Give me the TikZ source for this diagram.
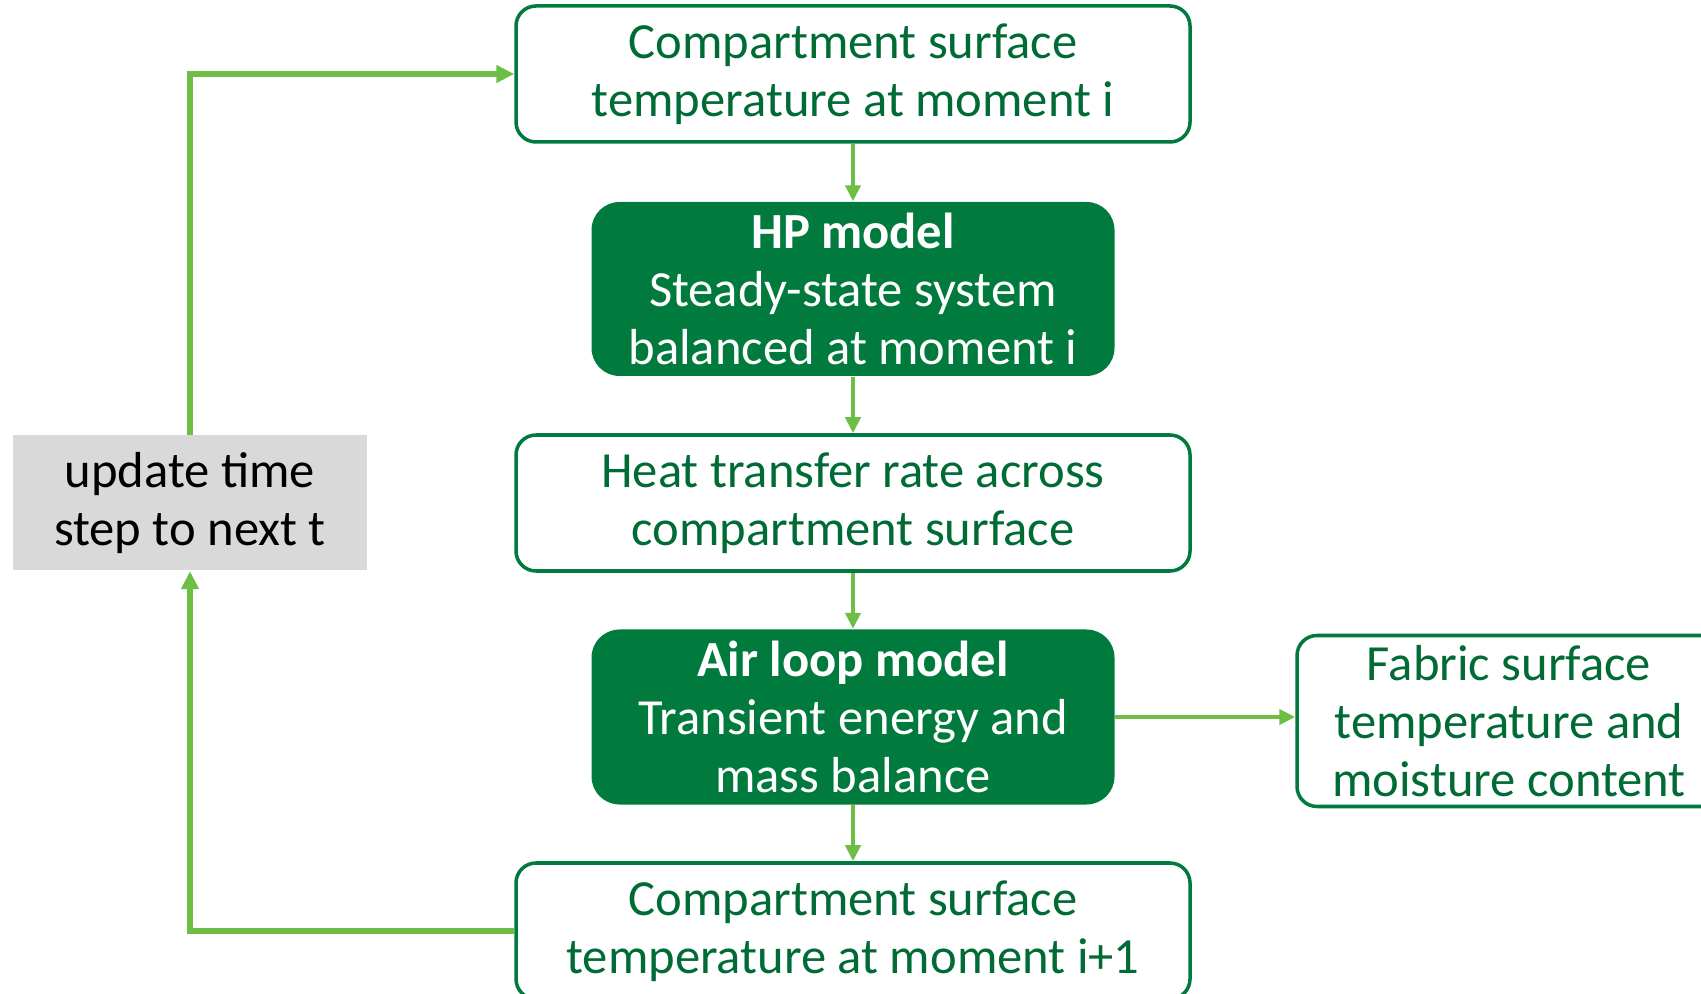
\documentclass[tikz,border=0pt]{standalone}
\usepackage{fontspec}
\setmainfont{Carlito}
\usepackage{xcolor}
\usepackage{tikz}
\usetikzlibrary{arrows.meta,calc}
\definecolor{dkgreen}{HTML}{007A3D}
\definecolor{txtgreen}{HTML}{006B35}
\definecolor{ltgreen}{HTML}{6CBE45}
\definecolor{greybox}{HTML}{D9D9D9}
\tikzset{
  outbox/.style={draw=dkgreen, line width=1pt, rounded corners=0.2cm, fill=white,
    text=txtgreen, align=center, minimum width=6.74cm, minimum height=1.36cm, inner sep=0pt},
  modelbox/.style={fill=dkgreen, rounded corners=0.28cm, text=white, align=center,
    minimum width=5.23cm, minimum height=1.74cm, inner sep=0pt},
  stepbox/.style={fill=greybox, text=black, align=center, minimum width=3.54cm,
    minimum height=1.35cm, inner sep=0pt},
  flow/.style={-{Triangle[length=1.6mm,width=1.5mm]}, line width=1.2pt, draw=ltgreen},
  loop/.style={-{Triangle[length=1.8mm,width=1.7mm]}, line width=1.8pt, draw=ltgreen}
}
\newcommand{\boxfont}{\fontsize{14.4}{16.5}\selectfont}

\begin{document}
\begin{tikzpicture}[font=\boxfont]
  \useasboundingbox (0,0) rectangle (17.01,-9.94);
  \clip (0,0) rectangle (17.01,-9.94);
  % chain of the time step
  \node[outbox] (tnow) at (8.53,-0.74) {Compartment surface\\temperature at moment i};
  \node[modelbox] (hp) at (8.53,-2.89) {\textbf{HP model}\\Steady-state system\\balanced at moment i};
  \node[outbox] (heat) at (8.53,-5.03) {Heat transfer rate across\\compartment surface};
  \node[modelbox, minimum height=1.75cm] (air) at (8.53,-7.17) {\textbf{Air loop model}\\Transient energy and\\mass balance};
  \node[outbox] (tnext) at (8.53,-9.31) {Compartment surface\\temperature at moment i+1};
  \node[outbox, minimum width=4.24cm, minimum height=1.71cm] (fabric) at (15.09,-7.21)
    {Fabric surface\\temperature and\\moisture content};
  \node[stepbox] (upd) at (1.90,-5.03) {update time\\step to next t};
  \draw[flow] (tnow) -- (hp);
  \draw[flow] (hp) -- (heat);
  \draw[flow] (heat) -- (air);
  \draw[flow] (air) -- (tnext);
  \draw[flow] (air.east) -- (air.east -| fabric.west);
  % feedback
  \draw[loop] (tnext.west) -| (upd.south);
  \draw[loop] (upd.north) |- (tnow.west);
\end{tikzpicture}
\end{document}
